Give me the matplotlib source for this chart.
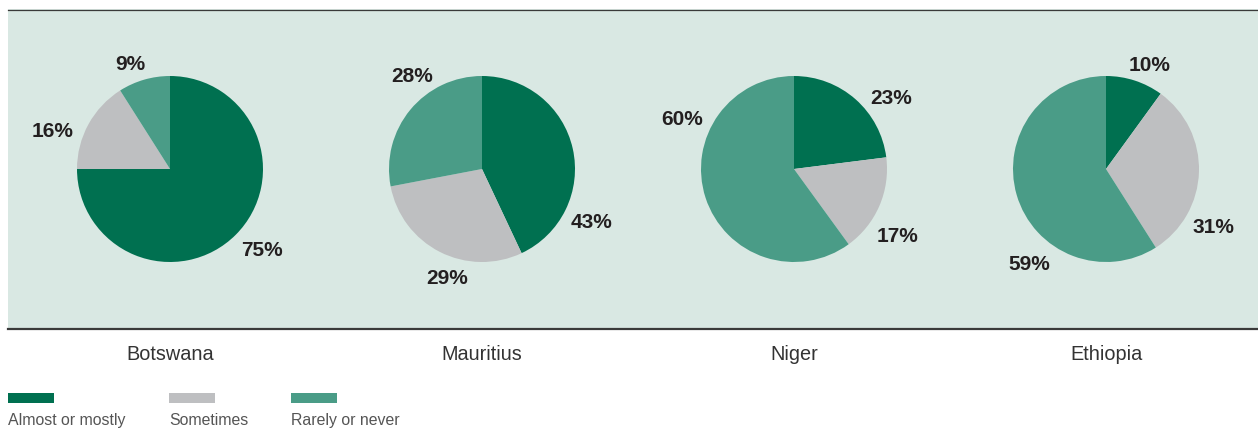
import matplotlib
matplotlib.use("Agg")
import matplotlib.pyplot as plt
from matplotlib.patches import Rectangle
from matplotlib.lines import Line2D

# ---- data ----
countries = ["Botswana", "Mauritius", "Niger", "Ethiopia"]
categories = ["Almost or mostly", "Sometimes", "Rarely or never"]
almost = [75, 43, 23, 10]
sometimes = [16, 29, 17, 31]
rarely = [9, 28, 60, 59]

# ---- styles / layout ----
colors = ["#007050", "#BEBFC1", "#4A9C87"]
bg = "#D9E8E3"
W, H = 1258, 429
dpi = 100
centers_x = [170, 482, 794, 1106]
center_y = 169
radius_px = 93
# label offsets relative to pie centre, in radius units (per country, per category)
label_offsets = [
    [(0.99, -0.86), (-1.26, 0.42), (-0.43, 1.14)],
    [(1.18, -0.55), (-0.38, -1.16), (-0.75, 1.02)],
    [(1.04, 0.78), (1.11, -0.70), (-1.20, 0.55)],
    [(0.47, 1.13), (1.16, -0.61), (-0.82, -1.00)],
]

plt.rcParams["font.family"] = ["Liberation Sans", "DejaVu Sans"]

fig = plt.figure(figsize=(W / dpi, H / dpi), dpi=dpi)
fig.patch.set_facecolor("white")

def fx(px):
    return px / W

def fy(py):
    return 1 - py / H

# panel background
fig.patches.append(Rectangle((fx(8), fy(329)), fx(W - 8), fy(9) - fy(329),
                             transform=fig.transFigure, facecolor=bg,
                             edgecolor="none", zorder=-5))
fig.lines.append(Line2D([fx(8), 1], [fy(9.5), fy(9.5)], transform=fig.transFigure,
                        color="#3a3a3a", linewidth=0.9, zorder=-4))
fig.lines.append(Line2D([fx(8), 1], [fy(329), fy(329)], transform=fig.transFigure,
                        color="#3a3a3a", linewidth=1.6, zorder=-4))

span = 1.5
size_px = 2 * span * radius_px
for i, c in enumerate(countries):
    cx = centers_x[i]
    ax = fig.add_axes([fx(cx - size_px / 2), fy(center_y + size_px / 2),
                       fx(size_px), size_px / H])
    ax.set_zorder(2)
    vals = [almost[i], sometimes[i], rarely[i]]
    ax.pie(vals, colors=colors, startangle=90, counterclock=False, radius=1,
           wedgeprops=dict(linewidth=0))
    for j, v in enumerate(vals):
        dx, dy = label_offsets[i][j]
        ax.annotate(f"{v}%", (dx, dy), xytext=(0, -2), textcoords="offset pixels",
                    ha="center", va="center", fontsize=15,
                    fontweight="bold", color="#231F20")
    ax.set_xlim(-span, span)
    ax.set_ylim(-span, span)
    ax.set_aspect("equal")
    ax.axis("off")
    fig.text(fx(cx), fy(355), c, ha="center", va="center", fontsize=14.3,
             color="#333333")

# legend
legend_x = [8, 169, 291]
for k, cat in enumerate(categories):
    fig.patches.append(Rectangle((fx(legend_x[k]), fy(403)), fx(46), 10 / H,
                                 transform=fig.transFigure, facecolor=colors[k],
                                 edgecolor="none"))
    fig.text(fx(legend_x[k]), fy(420.5), cat, ha="left", va="center",
             fontsize=11.4, color="#555555")

fig.savefig("out.png", dpi=dpi, facecolor=fig.get_facecolor())
